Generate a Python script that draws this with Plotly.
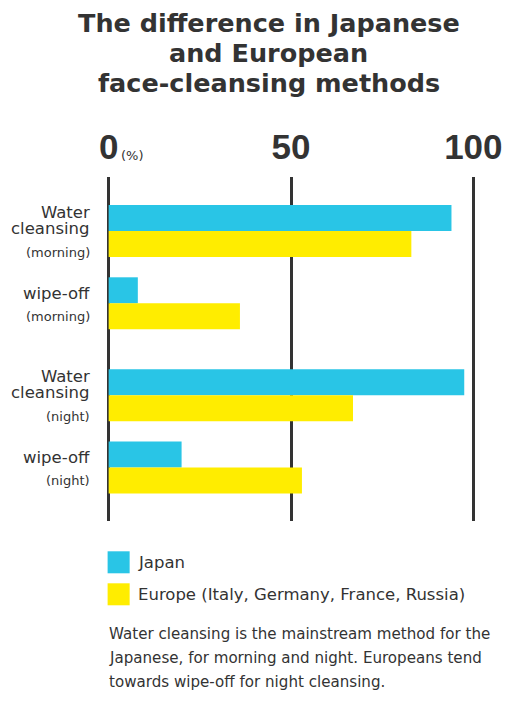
import plotly.graph_objects as go

# ---- data ----
categories_main = [["Water", "cleansing"], ["wipe-off"], ["Water", "cleansing"], ["wipe-off"]]
categories_sub = ["(morning)", "(morning)", "(night)", "(night)"]
japan = [94, 8, 97.5, 20]
europe = [83, 36, 67, 53]
series_names = ["Japan", "Europe (Italy, Germany, France, Russia)"]
tick_values = [0, 50, 100]
tick_labels = ["0", "50", "100"]
title_lines = ["The difference in Japanese", "and European", "face-cleansing methods"]
caption_lines = [
    "Water cleansing is the mainstream method for the",
    "Japanese, for morning and night. Europeans tend",
    "towards wipe-off for night cleansing.",
]

# ---- layout constants (page body has an 8px margin) ----
OFF = 8
W, H = 510 - 2 * OFF, 701 - 2 * OFF
ML, MT = 105.4 - OFF, 176.7 - OFF
PW = 371.3
PB = 520.7 - OFF
MR = W - ML - PW
MB = H - PB
PH = PB - MT
group_pos = [0, 1, 2.27, 3.27]
bar_w = 0.36
C_JP = "#29C5E6"
C_EU = "#FFED00"
TXT = "#333333"


def pxx(px):
    return (px - OFF - ML) / PW


def pxy(py):
    return (PB - (py - OFF)) / PH


def ycenter(pos):
    # paper y of a group position on the reversed axis [4.01, -0.747]
    return (4.01 - pos) / (4.01 + 0.747)


fig = go.Figure()
fig.add_trace(go.Bar(y=group_pos, x=japan, orientation="h", width=bar_w, offset=-bar_w,
                     marker=dict(color=C_JP, line=dict(width=0)), name=series_names[0]))
fig.add_trace(go.Bar(y=group_pos, x=europe, orientation="h", width=bar_w, offset=0,
                     marker=dict(color=C_EU, line=dict(width=0)), name=series_names[1]))

ann = []
# category labels
for i, (main, sub) in enumerate(zip(categories_main, categories_sub)):
    if len(main) == 2:
        shifts = [18.5, 2.5]
        sub_shift = -21
    else:
        shifts = [10]
        sub_shift = -13.5
    yc = ycenter(group_pos[i])
    for line, s in zip(main, shifts):
        ann.append(dict(x=pxx(92), y=yc, xref="paper", yref="paper", text=line, showarrow=False,
                        xanchor="right", yanchor="middle", yshift=s,
                        font=dict(family="DejaVu Sans", size=16.5, color=TXT)))
    ann.append(dict(x=pxx(92), y=yc, xref="paper", yref="paper", text=sub, showarrow=False,
                    xanchor="right", yanchor="middle", yshift=sub_shift,
                    font=dict(family="DejaVu Sans", size=13, color=TXT)))

# (%) unit
ann.append(dict(x=pxx(119), y=pxy(155), xref="paper", yref="paper", text="(%)", showarrow=False,
                xanchor="left", yanchor="middle",
                font=dict(family="DejaVu Sans", size=13, color=TXT)))

# title
for k, line in enumerate(title_lines):
    ann.append(dict(x=pxx(269), y=pxy(23 + 30 * k), xref="paper", yref="paper", text="<b>%s</b>" % line,
                    showarrow=False, xanchor="center", yanchor="middle",
                    font=dict(family="DejaVu Sans", size=25.5, color=TXT)))

# legend
shapes = []
legend_colors = [C_JP, C_EU]
for k, (name, col) in enumerate(zip(series_names, legend_colors)):
    top = 551 + 32 * k
    shapes.append(dict(type="rect", xref="paper", yref="paper", x0=pxx(108), x1=pxx(130),
                       y0=pxy(top + 22), y1=pxy(top), fillcolor=col, line=dict(width=0)))
    ann.append(dict(x=pxx(136), y=pxy(top + 11), xref="paper", yref="paper", text=name,
                    showarrow=False, xanchor="left", yanchor="middle",
                    font=dict(family="DejaVu Sans", size=16.5, color=TXT)))

# caption
for k, line in enumerate(caption_lines):
    ann.append(dict(x=pxx(107), y=pxy(634 + 24 * k), xref="paper", yref="paper", text=line,
                    showarrow=False, xanchor="left", yanchor="middle",
                    font=dict(family="DejaVu Sans", size=15.1, color=TXT)))

fig.update_layout(
    width=W, height=H,
    margin=dict(l=ML, r=MR, t=MT, b=MB, pad=0, autoexpand=False),
    paper_bgcolor="white", plot_bgcolor="white",
    barmode="overlay", showlegend=False,
    annotations=ann, shapes=shapes,
    xaxis=dict(side="top", range=[-1, 101], tickvals=tick_values, ticktext=tick_labels,
               showgrid=True, gridcolor=TXT, gridwidth=2.5, zeroline=False, showline=False,
               ticks="", ticklabelstandoff=10, automargin=False, ticklabeloverflow="allow",
               tickfont=dict(family="Liberation Sans", size=35, color=TXT, weight="bold")),
    yaxis=dict(range=[4.01, -0.747], showticklabels=False, showgrid=False, zeroline=False,
               showline=False, ticks="", automargin=False),
)

fig.write_html("out.html")
